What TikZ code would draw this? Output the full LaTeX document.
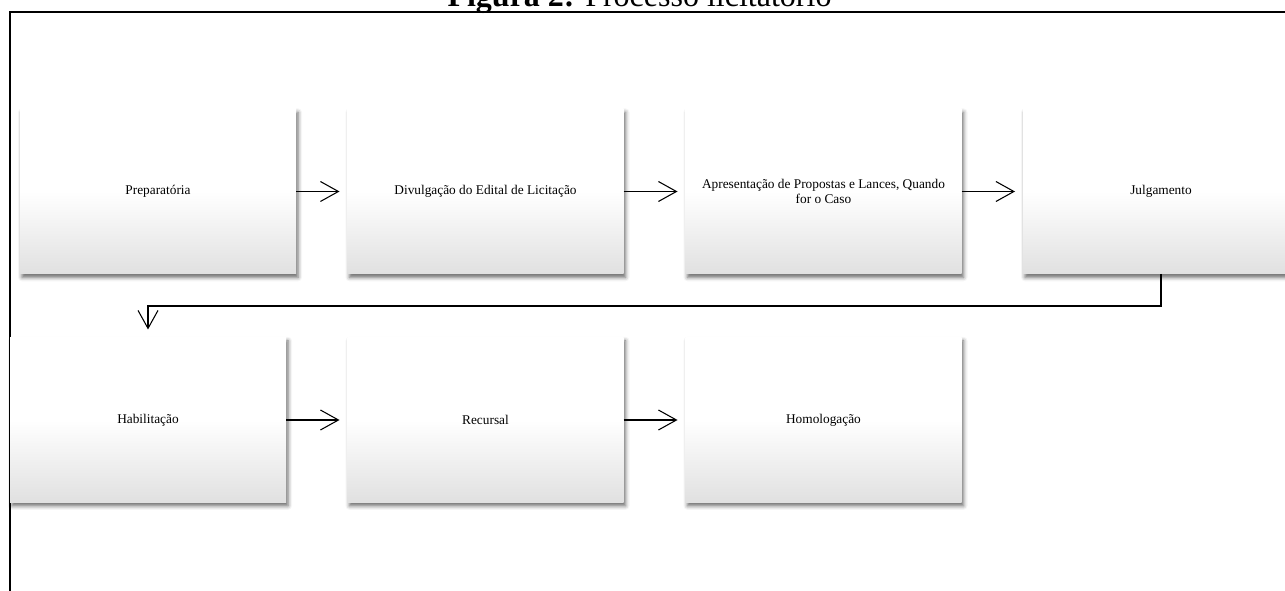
\documentclass[tikz,border=0pt]{standalone}
\usepackage{fontspec}
\setmainfont{Liberation Serif}
\usetikzlibrary{arrows.meta,shadows.blur}
\tikzset{
  etapa/.style={rectangle, minimum width=207pt, minimum height=123.75pt,
    inner sep=2pt, outer sep=0pt, align=center,
    font=\fontsize{10}{11.25}\selectfont,
    top color=white, bottom color=black!12, middle color=white,
    blur shadow={shadow xshift=1.5pt, shadow yshift=-2.5pt,
      shadow blur radius=3pt, shadow opacity=60}},
  seta/.style={line width=0.8pt, shorten >=6pt,
    -{Straight Barb[length=13.5pt,width=15pt,line width=0.8pt]}}
}
\begin{document}
\begin{tikzpicture}
[x=0.75pt,y=-0.75pt]
\useasboundingbox (0,0) rectangle (1285,591);

\node[anchor=base,font=\fontsize{24}{28}\selectfont] (titulo) at (639.5,7)
  {\textbf{Figura 2:} Processo licitatório};
\draw[line width=1.5pt] (9.5,591) -- (9.5,12.5) -- (1295,12.5);

% primeira linha
\node[etapa] (prep) at (158,191.5) {Preparatória};
\node[etapa] (divulg) at (485.5,191.5) {Divulgação do Edital de Licitação};
\node[etapa] (apres) at (823.5,191.5)
  {Apresentação de Propostas e Lances, Quando\\for o Caso};
\node[etapa] (julg) at (1161,191.5) {Julgamento};

% segunda linha
\node[etapa] (habil) at (148,420) {Habilitação};
\node[etapa] (recurs) at (485.5,420) {Recursal};
\node[etapa] (homol) at (823.5,420) {Homologação};

\draw[seta] (prep) -- (divulg);
\draw[seta] (divulg) -- (apres);
\draw[seta] (apres) -- (julg);
\coordinate (volta) at (148,306);
\draw[seta] (julg.south) |- (volta) -- (habil.north);
\draw[seta] (habil) -- (recurs);
\draw[seta] (recurs) -- (homol);
\end{tikzpicture}
\end{document}
